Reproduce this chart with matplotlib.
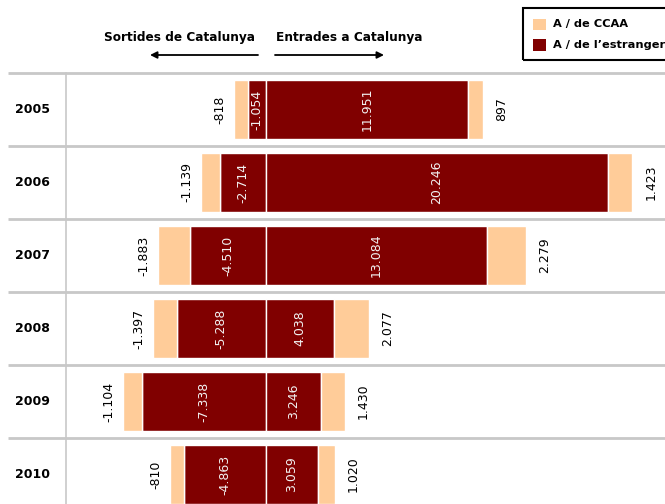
import numpy as np
import matplotlib.pyplot as plt
from matplotlib.patches import Rectangle

# dades (persones)
anys = ['2005', '2006', '2007', '2008', '2009', '2010']
sortides_ccaa = [-818, -1139, -1883, -1397, -1104, -810]
sortides_estranger = [-1054, -2714, -4510, -5288, -7338, -4863]
entrades_estranger = [11951, 20246, 13084, 4038, 3246, 3059]
entrades_ccaa = [897, 1423, 2279, 2077, 1430, 1020]

col_ccaa = '#FFCC99'
col_estr = '#800000'
col_grid = '#c8c8c8'

def fmt(v):
    return f"{v:,}".replace(',', '.')

fig = plt.figure(figsize=(6.65, 5.04), dpi=100)
plt.rcParams['font.family'] = ['DejaVu Sans']
ax = fig.add_axes([66 / 665, 0, 599 / 665, 1 - 73 / 504])

y = np.arange(len(anys))
h = 0.82
so_e = np.array(sortides_estranger)
so_c = np.array(sortides_ccaa)
en_e = np.array(entrades_estranger)
en_c = np.array(entrades_ccaa)

ax.barh(y, so_e, height=h, color=col_estr, edgecolor='white', linewidth=1)
ax.barh(y, so_c, left=so_e, height=h, color=col_ccaa, edgecolor='white', linewidth=1)
ax.barh(y, en_e, height=h, color=col_estr, edgecolor='white', linewidth=1)
ax.barh(y, en_c, left=en_e, height=h, color=col_ccaa, edgecolor='white', linewidth=1)

# etiquetes
for i in range(len(anys)):
    ax.text(so_e[i] / 2, y[i], fmt(so_e[i]), rotation=90, ha='center', va='center',
            color='#f2f2f2', fontsize=9)
    ax.text(en_e[i] / 2, y[i], fmt(en_e[i]), rotation=90, ha='center', va='center',
            color='#f2f2f2', fontsize=9)
    ax.annotate(fmt(so_c[i]), (so_e[i] + so_c[i], y[i]), xytext=(-8, 0),
                textcoords='offset pixels', rotation=90, ha='right', va='center',
                fontsize=9, color='black')
    ax.annotate(fmt(en_c[i]), (en_e[i] + en_c[i], y[i]), xytext=(12, 0),
                textcoords='offset pixels', rotation=90, ha='left', va='center',
                fontsize=9, color='black')
    ax.text(-0.085, y[i], anys[i], transform=ax.get_yaxis_transform(),
            ha='left', va='center', fontsize=9, fontweight='bold')

# linies separadores
for yy in np.arange(-0.5, len(anys), 1):
    ax.plot([-0.097, 1], [yy, yy], transform=ax.get_yaxis_transform(),
            color=col_grid, lw=2, clip_on=False, solid_capstyle='butt')

s = 0.0169
ax.set_xlim(-200 / s, 399 / s)
ax.set_ylim(-0.5 + 431 / 73, -0.5)
ax.set_xticks([])
ax.set_yticks([])
for sp in ['top', 'right', 'bottom']:
    ax.spines[sp].set_visible(False)
ax.spines['left'].set_color(col_grid)
ax.spines['left'].set_linewidth(1.2)

# capçalera
fig.text(255 / 665, 1 - 37 / 504, 'Sortides de Catalunya', ha='right', va='center',
         fontsize=8.7, fontweight='bold')
fig.text(276 / 665, 1 - 37 / 504, 'Entrades a Catalunya', ha='left', va='center',
         fontsize=8.7, fontweight='bold')
ax.annotate('', xy=(150 / 665, 1 - 55 / 504), xytext=(258 / 665, 1 - 55 / 504),
            xycoords='figure fraction', textcoords='figure fraction',
            arrowprops=dict(arrowstyle='-|>', color='black', lw=1.3,
                            mutation_scale=10, shrinkA=0, shrinkB=0))
ax.annotate('', xy=(384 / 665, 1 - 55 / 504), xytext=(275 / 665, 1 - 55 / 504),
            xycoords='figure fraction', textcoords='figure fraction',
            arrowprops=dict(arrowstyle='-|>', color='black', lw=1.3,
                            mutation_scale=10, shrinkA=0, shrinkB=0))

# llegenda
fig.add_artist(Rectangle((523 / 665, 1 - 60 / 504), 160 / 665, 52 / 504,
                         transform=fig.transFigure, fill=False, edgecolor='black',
                         lw=1.5, clip_on=False))
fig.add_artist(Rectangle((533 / 665, 1 - 30 / 504), 13 / 665, 11 / 504,
                         transform=fig.transFigure, facecolor=col_ccaa, edgecolor='none'))
fig.add_artist(Rectangle((533 / 665, 1 - 51 / 504), 13 / 665, 12 / 504,
                         transform=fig.transFigure, facecolor=col_estr, edgecolor='none'))
fig.text(553 / 665, 1 - 24.5 / 504, 'A / de CCAA', ha='left', va='center',
         fontsize=8.2, fontweight='bold')
fig.text(553 / 665, 1 - 45 / 504, "A / de l\u2019estranger", ha='left', va='center',
         fontsize=8.2, fontweight='bold')

fig.savefig('out.png', dpi=100)
